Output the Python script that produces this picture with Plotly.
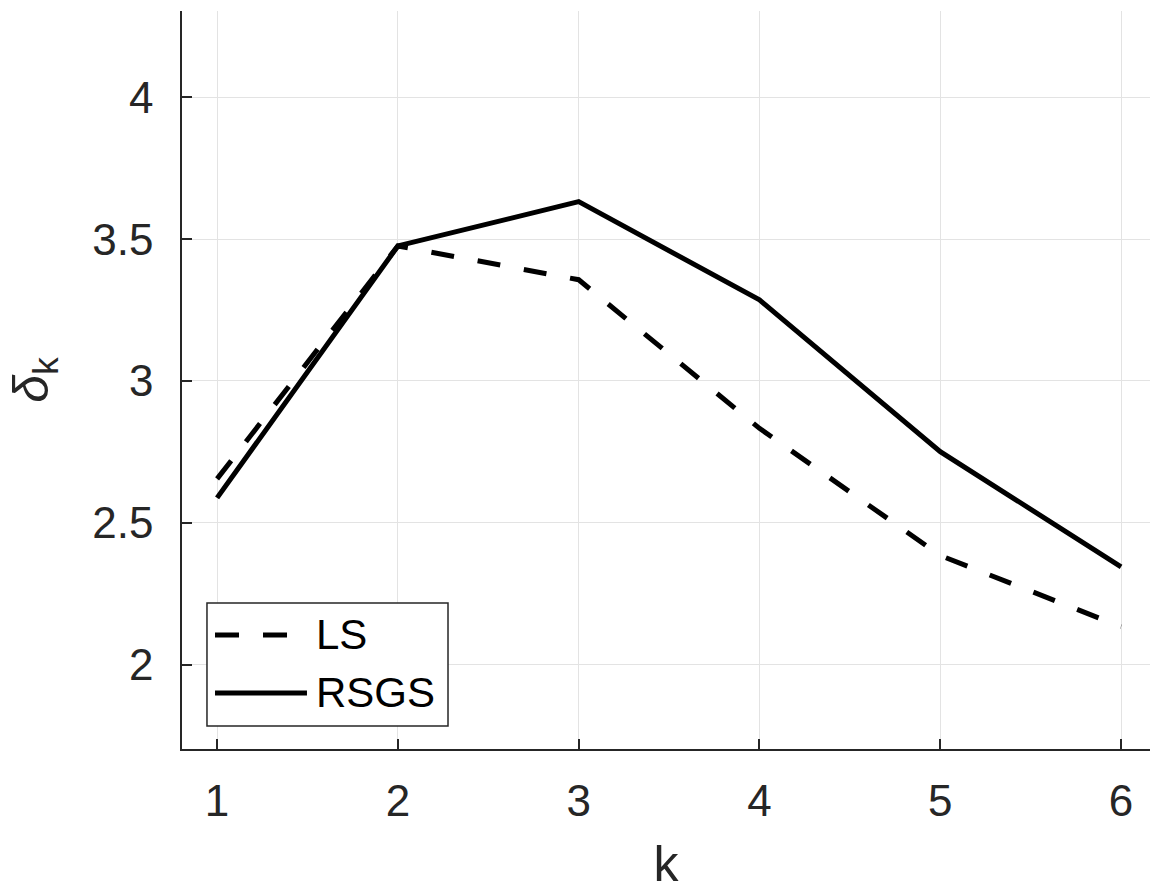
import plotly.graph_objects as go

k = [1, 2, 3, 4, 5, 6]
ls_vals = [2.655, 3.476, 3.357, 2.833, 2.385, 2.134]
rsgs_vals = [2.588, 3.476, 3.632, 3.286, 2.751, 2.345]
x_ticks = [1, 2, 3, 4, 5, 6]
y_ticks = [2, 2.5, 3, 3.5, 4]
y_tick_labels = ["2", "2.5", "3", "3.5", "4"]

FONT = "Liberation Sans, Arial, sans-serif"
AX = "#262626"

fig = go.Figure()
fig.add_trace(go.Scatter(x=k, y=ls_vals, mode="lines", name="LS",
                         line=dict(color="black", width=5, dash="23px,24px")))
fig.add_trace(go.Scatter(x=k, y=rsgs_vals, mode="lines", name="RSGS",
                         line=dict(color="black", width=5)))

fig.update_layout(
    width=1150, height=892,
    margin=dict(l=182, r=0, t=11, b=143, autoexpand=False),
    paper_bgcolor="white", plot_bgcolor="white",
    showlegend=False,
    font=dict(family=FONT, color=AX),
)
fig.update_xaxes(
    range=[0.806, 6.16], tickvals=x_ticks, ticktext=[str(v) for v in x_ticks],
    showgrid=True, gridcolor="#e3e3e3", gridwidth=1,
    showline=True, linecolor=AX, linewidth=1.5, mirror=False,
    ticks="inside", ticklen=10, tickwidth=1.5, tickcolor=AX,
    tickfont=dict(size=44, color=AX, family=FONT), ticklabelstandoff=12,
    zeroline=False,
    title=dict(text="k", font=dict(size=50, color=AX, family=FONT), standoff=30),
)
fig.update_yaxes(
    range=[1.703, 4.304], tickvals=y_ticks, ticktext=y_tick_labels,
    showgrid=True, gridcolor="#e3e3e3", gridwidth=1,
    showline=True, linecolor=AX, linewidth=1.5, mirror=False,
    ticks="inside", ticklen=10, tickwidth=1.5, tickcolor=AX,
    tickfont=dict(size=44, color=AX, family=FONT), ticklabelstandoff=18,
    zeroline=False,
    title=dict(text="<i>δ</i><sub>k</sub>", font=dict(size=50, color=AX, family=FONT), standoff=28),
)

# Custom legend (box, line samples, labels) in plot-area paper coordinates
fig.add_shape(type="rect", xref="paper", yref="paper",
              x0=0.0258, x1=0.2748, y0=0.0312, y1=0.1978,
              line=dict(color=AX, width=1.5), fillcolor="white", layer="above")
fig.add_shape(type="line", xref="paper", yref="paper",
              x0=0.0341, x1=0.1291, y0=0.1545, y1=0.1545,
              line=dict(color="black", width=5, dash="24px,24px"), layer="above")
fig.add_shape(type="line", xref="paper", yref="paper",
              x0=0.0341, x1=0.1291, y0=0.0759, y1=0.0759,
              line=dict(color="black", width=5), layer="above")
fig.add_annotation(xref="paper", yref="paper", x=0.1360, y=0.1545, text="LS",
                   showarrow=False, xanchor="left", yanchor="middle",
                   font=dict(size=42, color="black", family=FONT))
fig.add_annotation(xref="paper", yref="paper", x=0.1360, y=0.0759, text="RSGS",
                   showarrow=False, xanchor="left", yanchor="middle",
                   font=dict(size=42, color="black", family=FONT))

fig.write_html("out.html")
